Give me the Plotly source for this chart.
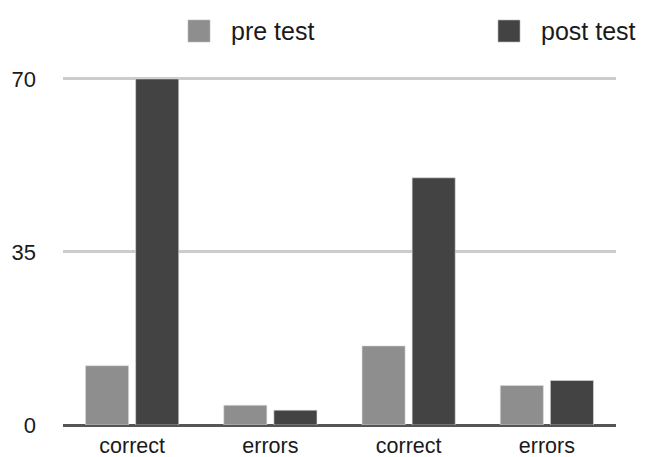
import plotly.graph_objects as go

categories = ["correct", "errors", "correct", "errors"]
pre_test = [12, 4, 16, 8]
post_test = [70, 3, 50, 9]
y_ticks = [0, 35, 70]
series_names = ["pre test", "post test"]
series_colors = ["#8e8e8e", "#434343"]

x_pos = list(range(len(categories)))
font = "Liberation Sans, Arial, sans-serif"

W, H = 645, 457
ML, MR, MT, MB = 63, 29, 74, 32
PW, PH = W - ML - MR, H - MT - MB


def px_x(p):
    return (p - ML) / PW


def px_y(p):
    return (H - MB - p) / PH


fig = go.Figure()
for name, vals, col in zip(series_names, [pre_test, post_test], series_colors):
    fig.add_trace(go.Bar(x=x_pos, y=vals, name=name, showlegend=False,
                         marker=dict(color=col, line=dict(color="#dddddd", width=0.6))))

# manual legend (big squares like the reference)
shapes = []
annotations = []
for i, (name, col) in enumerate(zip(series_names, series_colors)):
    sx = 188 + i * 310
    shapes.append(dict(type="rect", xref="paper", yref="paper",
                       x0=px_x(sx), x1=px_x(sx + 22), y0=px_y(42), y1=px_y(20),
                       fillcolor=col, line=dict(color="#bbbbbb", width=0.6)))
    annotations.append(dict(text=name, xref="paper", yref="paper",
                            x=px_x(sx + 41), y=px_y(31), xanchor="left", yanchor="middle",
                            showarrow=False, font=dict(size=25, color="#1a1a1a")))

fig.update_layout(
    width=W, height=H,
    margin=dict(l=ML, r=MR, t=MT, b=MB, autoexpand=False),
    paper_bgcolor="white", plot_bgcolor="white",
    barmode="group", bargap=0.275, bargroupgap=0.14,
    font=dict(family=font, size=21, color="#1a1a1a"),
    showlegend=False,
    shapes=shapes,
    annotations=annotations,
    xaxis=dict(tickmode="array", tickvals=x_pos, ticktext=categories,
               range=[-0.5, len(categories) - 0.5], showgrid=False,
               showline=False, ticks="", tickfont=dict(size=21.5),
               automargin=False, ticklabelstandoff=5),
    yaxis=dict(range=[0, 71], tickmode="array", tickvals=y_ticks,
               showgrid=True, gridcolor="#cccccc", gridwidth=2.5,
               zeroline=True, zerolinecolor="#555555", zerolinewidth=3,
               showline=False, ticks="", ticklabelstandoff=26,
               tickfont=dict(size=22), automargin=False),
)

fig.write_html(
    "out.html",
    config={"displayModeBar": False},
    post_script="document.body.style.margin='0';document.body.style.overflow='hidden';",
)
